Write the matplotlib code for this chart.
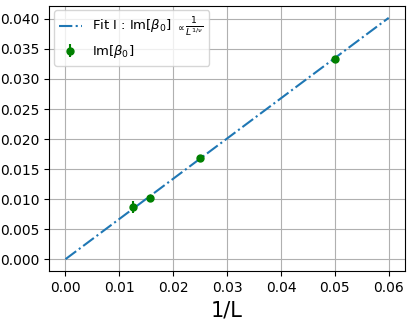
import numpy as np
import matplotlib.pyplot as plt

# data
inv_L = [1 / 80, 1 / 64, 1 / 40, 1 / 20]
im_beta0 = [0.0087, 0.0102, 0.0169, 0.0334]
im_err = [0.0010, 0.0003, 0.0003, 0.0004]

# fit through origin, Im[beta0] ~ 1/L^(1/nu) with 1/nu ~ 1
x = np.array(inv_L)
y = np.array(im_beta0)
slope = np.sum(x * y) / np.sum(x * x)
x_fit = np.linspace(0, 0.06, 100)
y_fit = slope * x_fit

fig, ax = plt.subplots(figsize=(4.11, 3.21), dpi=100)
ax.plot(x_fit, y_fit, '-.',
        label=r'Fit I : Im[$\beta_0$] $_{\propto}\genfrac{}{}{0.8}{1}{1}{L^{1/\nu}}$')
ax.errorbar(inv_L, im_beta0, yerr=im_err, fmt='o', color='green', ms=5,
            label=r'Im[$\beta_0$]')
ax.set_xlabel('1/L', fontsize=15)
ax.grid(True)
ax.legend(loc='upper left', fontsize=9.5, handlelength=1.7, borderaxespad=0.35,
          labelspacing=0.3)
fig.subplots_adjust(left=0.12, right=0.985, top=0.982, bottom=0.155)
fig.savefig('out.png')
